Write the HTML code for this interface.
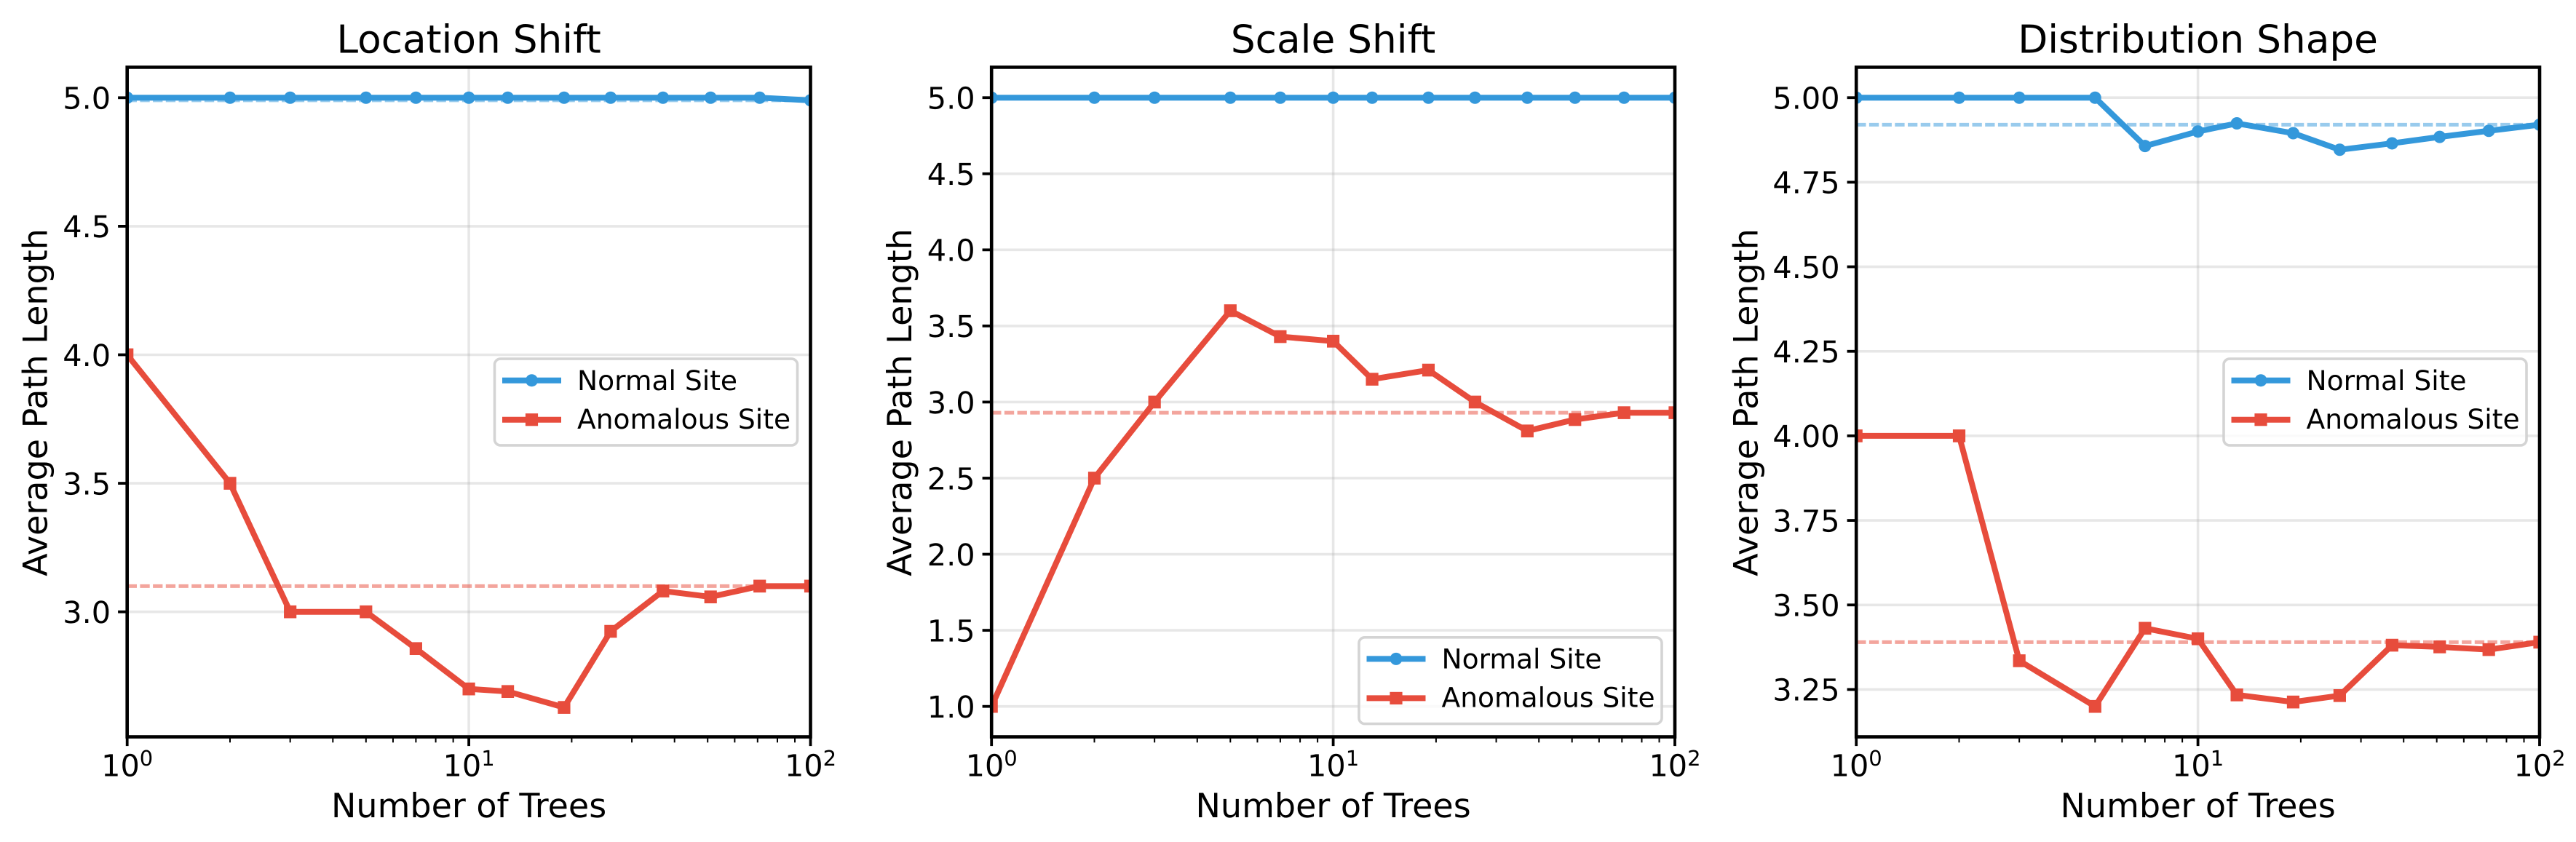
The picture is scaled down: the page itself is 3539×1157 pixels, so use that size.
<!DOCTYPE html>
<html lang="en">
<head>
<meta charset="utf-8">
<title>Average Path Length vs Number of Trees</title>
<style>
  html, body { margin: 0; padding: 0; background: #ffffff; }
  svg { display: block; }
  text { font-family: "DejaVu Sans", "Liberation Sans", sans-serif; fill: #000000; text-rendering: geometricPrecision; }
</style>
</head>
<body>
<svg id="figure" xmlns="http://www.w3.org/2000/svg" width="3539" height="1157" viewBox="0 0 3539 1157">
  <rect x="0" y="0" width="3539" height="1157" fill="#ffffff"></rect>
</svg>
<script>
const trees = [1, 2, 3, 5, 7, 10, 13, 19, 26, 37, 51, 71, 100];

const locationNormal = [5, 5, 5, 5, 5, 5, 5, 5, 5, 5, 5, 5, 4.99];
const locationAnomalous = [4, 3.5, 3, 3, 2.857, 2.7, 2.69, 2.628, 2.924, 3.081, 3.058, 3.1, 3.1];
const scaleNormal = [5, 5, 5, 5, 5, 5, 5, 5, 5, 5, 5, 5, 5];
const scaleAnomalous = [1, 2.5, 3, 3.6, 3.43, 3.4, 3.15, 3.21, 3, 2.81, 2.885, 2.93, 2.93];
const shapeNormal = [5, 5, 5, 5, 4.857, 4.9, 4.924, 4.895, 4.846, 4.865, 4.884, 4.902, 4.92];
const shapeAnomalous = [4, 4, 3.335, 3.2, 3.431, 3.4, 3.234, 3.213, 3.232, 3.381, 3.376, 3.368, 3.39];

const locationDomain = [2.5136, 5.1186];
const scaleDomain = [0.8, 5.2];
const shapeDomain = [3.11, 5.09];

const locationTicks = [3, 3.5, 4, 4.5, 5];
const locationTickLabels = ['3.0', '3.5', '4.0', '4.5', '5.0'];
const scaleTicks = [1, 1.5, 2, 2.5, 3, 3.5, 4, 4.5, 5];
const scaleTickLabels = ['1.0', '1.5', '2.0', '2.5', '3.0', '3.5', '4.0', '4.5', '5.0'];
const shapeTicks = [3.25, 3.5, 3.75, 4, 4.25, 4.5, 4.75, 5];
const shapeTickLabels = ['3.25', '3.50', '3.75', '4.00', '4.25', '4.50', '4.75', '5.00'];

const xMajorTicks = [1, 10, 100];
const xMinorTicks = [2, 3, 4, 5, 6, 7, 8, 9, 20, 30, 40, 50, 60, 70, 80, 90];
const xTickBases = ['10', '10', '10'];
const xTickExponents = ['0', '1', '2'];

const seriesNames = ['Normal Site', 'Anomalous Site'];

const BLUE = '#3498db';
const RED = '#e74c3c';
const AX_TOP = 92.4;
const AX_BOTTOM = 1012.5;
const AX_WIDTH = 938.8;
const NS = 'http://www.w3.org/2000/svg';
const svg = document.getElementById('figure');

function mk(parent, tag, attrs, txt) {
  const el = document.createElementNS(NS, tag);
  for (const k in attrs) el.setAttribute(k, attrs[k]);
  if (txt !== undefined) el.textContent = txt;
  parent.appendChild(el);
  return el;
}

function drawPanel(key, title, normal, anomalous, yTicks, yLabels, domain, left, legendTop) {
  const right = left + AX_WIDTH;
  const xScale = function (v) { return left + Math.log10(v) / 2 * AX_WIDTH; };
  const yScale = function (v) { return AX_BOTTOM - (v - domain[0]) / (domain[1] - domain[0]) * (AX_BOTTOM - AX_TOP); };

  const g = mk(svg, 'g', {});
  
  

  const clip = mk(g, 'clipPath', { id: 'clip-' + key });
  mk(clip, 'rect', { x: left, y: AX_TOP, width: AX_WIDTH, height: AX_BOTTOM - AX_TOP });

  // grid
  const grid = mk(g, 'g', { stroke: '#b0b0b0', 'stroke-opacity': 0.3, 'stroke-width': 3.6, 'clip-path': 'url(#clip-' + key + ')' });
  
  
  yTicks.forEach(function (t) {
    const line = mk(grid, 'line', { x1: left, x2: right, y1: yScale(t), y2: yScale(t) });
    
    
  });
  xMajorTicks.forEach(function (t) {
    const line = mk(grid, 'line', { x1: xScale(t), x2: xScale(t), y1: AX_TOP, y2: AX_BOTTOM });
    
    
  });

  // series
  const plot = mk(g, 'g', { 'clip-path': 'url(#clip-' + key + ')' });
  
  

  const pointsOf = function (vals) {
    return vals.map(function (v, i) { return xScale(trees[i]) + ',' + yScale(v); }).join(' ');
  };

  const refNormal = mk(plot, 'line', { x1: left, x2: right, y1: yScale(normal[normal.length - 1]), y2: yScale(normal[normal.length - 1]), stroke: BLUE, 'stroke-width': 5, 'stroke-opacity': 0.5, 'stroke-dasharray': '13.3 4.4' });
  
  

  const refAnomalous = mk(plot, 'line', { x1: left, x2: right, y1: yScale(anomalous[anomalous.length - 1]), y2: yScale(anomalous[anomalous.length - 1]), stroke: RED, 'stroke-width': 5, 'stroke-opacity': 0.5, 'stroke-dasharray': '13.3 4.4' });
  
  

  const lineNormal = mk(plot, 'polyline', { points: pointsOf(normal), fill: 'none', stroke: BLUE, 'stroke-width': 8, 'stroke-linejoin': 'round' });
  
  

  normal.forEach(function (v, i) {
    const dot = mk(plot, 'circle', { cx: xScale(trees[i]), cy: yScale(v), r: 8.5, fill: BLUE });
    
    
  });

  const lineAnomalous = mk(plot, 'polyline', { points: pointsOf(anomalous), fill: 'none', stroke: RED, 'stroke-width': 8, 'stroke-linejoin': 'round' });
  
  

  anomalous.forEach(function (v, i) {
    const sq = mk(plot, 'rect', { x: xScale(trees[i]) - 8.6, y: yScale(v) - 8.8, width: 17.2, height: 17.6, fill: RED });
    
    
  });

  // spines
  const frame = mk(g, 'rect', { x: left, y: AX_TOP, width: AX_WIDTH, height: AX_BOTTOM - AX_TOP, fill: 'none', stroke: '#000000', 'stroke-width': 4.6 });
  
  

  // y ticks
  yTicks.forEach(function (t, i) {
    const tick = mk(g, 'line', { x1: left - 12.6, x2: left, y1: yScale(t), y2: yScale(t), stroke: '#000000', 'stroke-width': 3.8 });
    
    
    const lab = mk(g, 'text', { x: left - 22.6, y: yScale(t) + 15.3, 'font-size': 41.4, 'text-anchor': 'end' }, yLabels[i]);
    
    
  });

  // x ticks
  xMinorTicks.forEach(function (t) {
    const tick = mk(g, 'line', { x1: xScale(t), x2: xScale(t), y1: AX_BOTTOM, y2: AX_BOTTOM + 7.8, stroke: '#000000', 'stroke-width': 2 });
    
    
  });
  xMajorTicks.forEach(function (t, i) {
    const tick = mk(g, 'line', { x1: xScale(t), x2: xScale(t), y1: AX_BOTTOM, y2: AX_BOTTOM + 12.6, stroke: '#000000', 'stroke-width': 3.8 });
    
    
    const lab = mk(g, 'text', { x: xScale(t), y: 1066.4, 'font-size': 41.4, 'text-anchor': 'middle' }, xTickBases[i]);
    
    
    mk(lab, 'tspan', { dy: -14.6, 'font-size': 29 }, xTickExponents[i]);
  });

  // titles
  const centre = left + AX_WIDTH / 2;
  const titleEl = mk(g, 'text', { x: centre, y: 72.7, 'font-size': 53.3, 'text-anchor': 'middle' }, title);
  
  

  const xTitle = mk(g, 'text', { x: centre, y: 1123.2, 'font-size': 46, 'text-anchor': 'middle' }, 'Number of Trees');
  
  

  const yBase = left - (key === 'shape' ? 135.5 : 110);
  const yTitle = mk(g, 'text', { x: yBase, y: 553, 'font-size': 46, 'text-anchor': 'middle', transform: 'rotate(-90 ' + yBase + ' 553)' }, 'Average Path Length');
  
  

  // legend
  const lx = right - 435.8;
  const legend = mk(g, 'g', {});
  
  

  const box = mk(legend, 'rect', { x: lx + 1.8, y: legendTop + 1.8, width: 416, height: 118.8, rx: 8, ry: 8, fill: '#ffffff', 'fill-opacity': 0.8, stroke: '#cccccc', 'stroke-opacity': 0.85, 'stroke-width': 3.6 });
  
  

  const h1 = mk(legend, 'line', { x1: lx + 12.3, x2: lx + 93.3, y1: legendTop + 31.4, y2: legendTop + 31.4, stroke: BLUE, 'stroke-width': 8 });
  
  

  const m1 = mk(legend, 'circle', { cx: lx + 52.8, cy: legendTop + 31.4, r: 8.5, fill: BLUE });
  
  

  const t1 = mk(legend, 'text', { x: lx + 115.3, y: legendTop + 44.7, 'font-size': 37.6 }, seriesNames[0]);
  
  

  const h2 = mk(legend, 'line', { x1: lx + 12.3, x2: lx + 93.3, y1: legendTop + 85.4, y2: legendTop + 85.4, stroke: RED, 'stroke-width': 8 });
  
  

  const m2 = mk(legend, 'rect', { x: lx + 44.2, y: legendTop + 76.8, width: 17.2, height: 17.2, fill: RED });
  
  

  const t2 = mk(legend, 'text', { x: lx + 115.3, y: legendTop + 97.7, 'font-size': 37.6 }, seriesNames[1]);
  
  
}

drawPanel('location', 'Location Shift', locationNormal, locationAnomalous, locationTicks, locationTickLabels, locationDomain, 174.7, 491.3);
drawPanel('scale', 'Scale Shift', scaleNormal, scaleAnomalous, scaleTicks, scaleTickLabels, scaleDomain, 1362.2, 874);
drawPanel('shape', 'Distribution Shape', shapeNormal, shapeAnomalous, shapeTicks, shapeTickLabels, shapeDomain, 2550.2, 491.3);
</script>
</body>
</html>
